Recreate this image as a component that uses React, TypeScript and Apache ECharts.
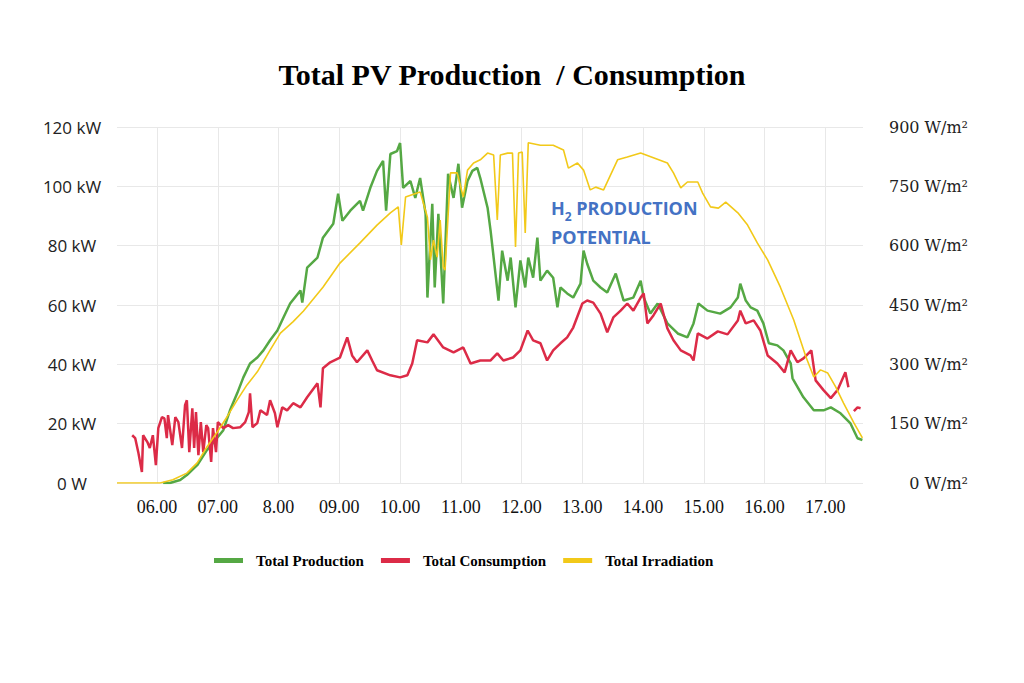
import React, { useEffect, useRef } from "react";
import * as echarts from "echarts";

// ---- data (hours of day, values) ----
const xTickHours = [6, 7, 8, 9, 10, 11, 12, 13, 14, 15, 16, 17];
const xTickLabels = ["06.00", "07.00", "8.00", "09.00", "10.00", "11.00", "12.00", "13.00", "14.00", "15.00", "16.00", "17.00"];

// Total Production (kW)
const production: [number, number][] = [
  [6.1, 0], [6.21, 0], [6.38, 1], [6.49, 2.7], [6.66, 6.0], [6.82, 11.1], [6.92, 13.5], [7.09, 17.8], [7.2, 24.5],
  [7.32, 30.3], [7.42, 35.6], [7.53, 40.3], [7.65, 42.3], [7.75, 44.7], [7.86, 48.1], [7.98, 51.4], [8.08, 55.8],
  [8.19, 60.5], [8.36, 64.9], [8.39, 60.8], [8.47, 72.6], [8.64, 76.0], [8.73, 82.7], [8.9, 87.4], [8.98, 97.5],
  [9.05, 88.4], [9.18, 91.8], [9.34, 95.1], [9.39, 91.8], [9.51, 99.5], [9.62, 105.2], [9.72, 108.6], [9.77, 91.8],
  [9.84, 110.9], [9.95, 111.9], [10.0, 114.6], [10.05, 99.5], [10.17, 101.8], [10.25, 96.1], [10.33, 102.8],
  [10.42, 90.7], [10.45, 62.5], [10.53, 94.1], [10.57, 65.9], [10.63, 90.7], [10.71, 60.5], [10.79, 104.2],
  [10.88, 96.1], [10.96, 107.6], [11.02, 92.8], [11.11, 101.8], [11.19, 105.2], [11.27, 106.2], [11.32, 102.8],
  [11.44, 92.8], [11.49, 85.0], [11.54, 76.0], [11.62, 61.5], [11.68, 78.3], [11.77, 68.2], [11.82, 76.0],
  [11.9, 59.2], [11.98, 75.0], [12.06, 65.9], [12.11, 76.0], [12.19, 69.2], [12.26, 82.7], [12.31, 68.2],
  [12.42, 71.6], [12.52, 69.2], [12.59, 59.2], [12.64, 65.9], [12.75, 63.9], [12.85, 62.5], [12.97, 67.2],
  [13.02, 78.3], [13.08, 73.9], [13.18, 68.2], [13.3, 65.9], [13.41, 64.2], [13.55, 70.6], [13.63, 64.9],
  [13.68, 61.5], [13.84, 62.5], [13.96, 68.2], [14.01, 62.5], [14.12, 57.1], [14.24, 60.5], [14.4, 53.8],
  [14.57, 50.4], [14.73, 49.1], [14.83, 53.8], [14.91, 60.5], [15.06, 58.1], [15.27, 57.1], [15.44, 59.2],
  [15.56, 62.5], [15.6, 67.2], [15.69, 61.5], [15.77, 59.2], [15.88, 58.1], [15.98, 53.8], [16.07, 47.1],
  [16.21, 46.4], [16.31, 44.7], [16.43, 40.3], [16.46, 35.3], [16.64, 28.9], [16.81, 24.5], [16.97, 24.5],
  [17.09, 25.5], [17.25, 23.5], [17.41, 20.2], [17.53, 15.1], [17.61, 14.5],
];

// Total Consumption (kW); null = gap in the record
const consumption: [number, number | null][] = [
  [5.59, 16.1], [5.64, 15.1], [5.69, 10.4], [5.75, 3.7], [5.77, 16.1], [5.84, 13.8], [5.88, 11.8], [5.93, 16.1],
  [5.98, 6.0], [6.02, 18.5], [6.08, 22.2], [6.12, 21.8], [6.16, 15.1], [6.18, 22.9], [6.25, 12.8], [6.3, 22.2],
  [6.35, 20.5], [6.41, 11.8], [6.46, 26.2], [6.49, 27.9], [6.53, 10.4], [6.58, 25.2], [6.61, 11.8], [6.64, 23.9],
  [6.68, 9.4], [6.72, 20.5], [6.76, 10.4], [6.81, 19.5], [6.84, 18.5], [6.89, 7.1], [6.92, 18.5], [6.97, 10.4],
  [7.0, 20.5], [7.09, 18.5], [7.17, 19.5], [7.25, 18.5], [7.37, 18.8], [7.45, 20.5], [7.51, 23.9], [7.53, 30.2],
  [7.57, 18.8], [7.65, 20.2], [7.7, 24.5], [7.81, 22.9], [7.86, 27.9],
  [7.94, 23.5], [7.98, 18.8], [8.06, 25.5], [8.14, 24.5], [8.24, 26.9], [8.36, 25.5], [8.47, 28.9], [8.64, 33.6],
  [8.69, 25.5], [8.73, 38.7], [8.85, 40.7], [9.01, 42.3], [9.13, 49.1], [9.21, 43.0], [9.29, 40.7], [9.46, 44.7],
  [9.54, 41.3], [9.62, 38.0], [9.84, 36.3], [10.0, 35.6], [10.12, 36.3], [10.2, 40.3], [10.28, 48.1],
  [10.45, 47.4], [10.55, 50.1], [10.71, 45.7], [10.88, 44.0], [11.04, 45.7], [11.16, 40.3], [11.32, 41.3],
  [11.49, 41.3], [11.6, 43.7], [11.7, 41.3], [11.86, 42.3], [11.98, 44.7], [12.1, 51.4], [12.19, 48.1],
  [12.31, 47.1], [12.42, 41.3], [12.52, 44.7], [12.64, 47.1], [12.75, 49.1], [12.85, 52.4], [13.0, 60.5],
  [13.08, 61.5], [13.18, 60.8], [13.3, 57.1], [13.41, 50.8], [13.51, 55.8], [13.63, 58.1], [13.74, 60.5],
  [13.84, 58.1], [13.96, 62.5], [14.01, 63.9], [14.07, 53.8], [14.17, 56.5], [14.29, 60.5], [14.4, 52.1],
  [14.5, 48.1], [14.62, 44.7], [14.78, 43.0], [14.83, 41.3], [14.9, 50.4], [15.06, 48.7], [15.23, 51.1],
  [15.39, 50.1], [15.56, 54.8], [15.6, 58.1], [15.69, 53.8], [15.82, 54.8], [15.93, 51.4], [16.05, 43.0],
  [16.21, 40.3], [16.33, 37.3], [16.43, 44.7], [16.54, 40.7], [16.64, 42.0], [16.77, 44.7], [16.84, 34.6],
  [16.97, 31.3], [17.09, 28.6], [17.2, 31.3], [17.33, 37.3], [17.38, 32.3], [17.42, null], [17.47, 24.2],
  [17.53, 25.5], [17.58, 25.2],
];

// Total Irradiation (W/m²)
const irradiation: [number, number][] = [
  [5.34, 0], [6.05, 0], [6.26, 8], [6.49, 25], [6.66, 51], [6.82, 91], [6.99, 129], [7.15, 167], [7.32, 210],
  [7.48, 248], [7.65, 281], [7.86, 336], [8.03, 379], [8.24, 408], [8.41, 435], [8.73, 495], [9.01, 556],
  [9.34, 607], [9.62, 652], [9.84, 683], [9.97, 698], [10.02, 602], [10.09, 723], [10.28, 733], [10.33, 736],
  [10.45, 672], [10.5, 564], [10.55, 614], [10.61, 571], [10.66, 665], [10.71, 546], [10.74, 538], [10.83, 784],
  [10.94, 784], [11.04, 723], [11.11, 791], [11.21, 809], [11.32, 817], [11.44, 834], [11.54, 829], [11.6, 665],
  [11.65, 829], [11.77, 834], [11.85, 834], [11.9, 597], [11.95, 834], [12.01, 837], [12.06, 632], [12.11, 860],
  [12.31, 854], [12.52, 854], [12.69, 842], [12.77, 796], [12.92, 809], [13.02, 791], [13.13, 741], [13.22, 748],
  [13.35, 741], [13.58, 817], [13.74, 824], [13.96, 834], [14.17, 822], [14.4, 809], [14.5, 784], [14.62, 746],
  [14.73, 761], [14.9, 761], [14.98, 733], [15.11, 698], [15.24, 695], [15.36, 710], [15.56, 683], [15.72, 652],
  [15.88, 607], [16.05, 564], [16.26, 495], [16.48, 412], [16.68, 319], [16.81, 268], [16.92, 286], [17.04, 278],
  [17.17, 243], [17.3, 202], [17.47, 152], [17.61, 114],
];

const leftTicks = { min: 0, max: 120, interval: 20 };
const rightTicks = { min: 0, max: 900, interval: 150 };

const COLORS = { prod: "#55A844", cons: "#DC2B47", irr: "#F2C919" };

export default function App() {
  const ref = useRef<HTMLDivElement>(null);

  useEffect(() => {
    if (!ref.current) return;
    const chart = echarts.init(ref.current, undefined, { renderer: "svg" });
    const serif = "Liberation Serif";
    chart.setOption({
      animation: false,
      backgroundColor: "#ffffff",
      title: {
        text: "Total PV Production  / Consumption",
        left: "center",
        top: 54,
        textStyle: { fontFamily: serif, fontWeight: "bold", fontSize: 30, color: "#000" },
      },
      legend: {
        left: 209,
        top: 548,
        icon: "rect",
        itemWidth: 29,
        itemHeight: 5,
        itemGap: 17,
        textStyle: { fontFamily: serif, fontWeight: "bold", fontSize: 15, color: "#000", padding: [0, 0, 0, 8] },
        data: ["Total Production", "Total Consumption", "Total Irradiation"],
      },
      grid: { left: 117, right: 161, top: 127, bottom: 200, containLabel: false },
      xAxis: {
        type: "value",
        min: 5.34,
        max: 17.62,
        axisLine: { show: false },
        axisTick: { show: false, customValues: xTickHours },
        splitLine: { show: true, lineStyle: { color: "#e8e8e8", width: 1 } },
        axisLabel: {
          customValues: xTickHours,
          margin: 15,
          fontFamily: serif,
          fontSize: 18,
          color: "#111",
          formatter: (v: number) => xTickLabels[xTickHours.indexOf(Math.round(v))] ?? "",
        },
      },
      yAxis: [
        {
          type: "value",
          ...leftTicks,
          axisLine: { show: false },
          axisTick: { show: false },
          splitLine: { show: true, lineStyle: { color: "#e8e8e8", width: 1 } },
          axisLabel: {
            align: "center",
            margin: 45,
            fontFamily: "Open Sans",
            fontSize: 17,
            color: "#222",
            formatter: (v: number) => (v === 0 ? "0 W" : `${v} kW`),
          },
        },
        {
          type: "value",
          ...rightTicks,
          position: "right",
          axisLine: { show: false },
          axisTick: { show: false },
          splitLine: { show: false },
          axisLabel: {
            align: "right",
            margin: 105,
            fontFamily: "DejaVu Serif",
            fontSize: 16,
            color: "#222",
            formatter: (v: number) => `${v} W/m²`,
          },
        },
      ],
      series: [
        {
          name: "Total Production",
          type: "line",
          yAxisIndex: 0,
          showSymbol: false,
          data: production,
          color: COLORS.prod,
          lineStyle: { width: 2.5, color: COLORS.prod },
        },
        {
          name: "Total Consumption",
          type: "line",
          yAxisIndex: 0,
          showSymbol: false,
          connectNulls: false,
          data: consumption.map(([h, v]) => (v == null ? [h, "-"] : [h, v])),
          color: COLORS.cons,
          lineStyle: { width: 2.5, color: COLORS.cons },
        },
        {
          name: "Total Irradiation",
          type: "line",
          yAxisIndex: 1,
          showSymbol: false,
          data: irradiation,
          color: COLORS.irr,
          lineStyle: { width: 1.6, color: COLORS.irr },
        },
      ],
      graphic: [
        {
          type: "text",
          left: 551,
          top: 199,
          z: 10,
          style: {
            text: "{b|H}{s|2}{b| PRODUCTION}\n{b|POTENTIAL}",
            rich: {
              b: { fontFamily: "Open Sans", fontWeight: "bold", fontSize: 18, lineHeight: 29, fill: "#4472C4" },
              s: { fontFamily: "Open Sans", fontWeight: "bold", fontSize: 12, lineHeight: 16, verticalAlign: "bottom", fill: "#4472C4" },
            },
          },
        },
      ],
    });
    return () => chart.dispose();
  }, []);

  return (
    <div
      ref={ref}
      style={{ position: "fixed", left: 0, top: 0, width: 1024, height: 683, background: "#fff" }}
    />
  );
}
